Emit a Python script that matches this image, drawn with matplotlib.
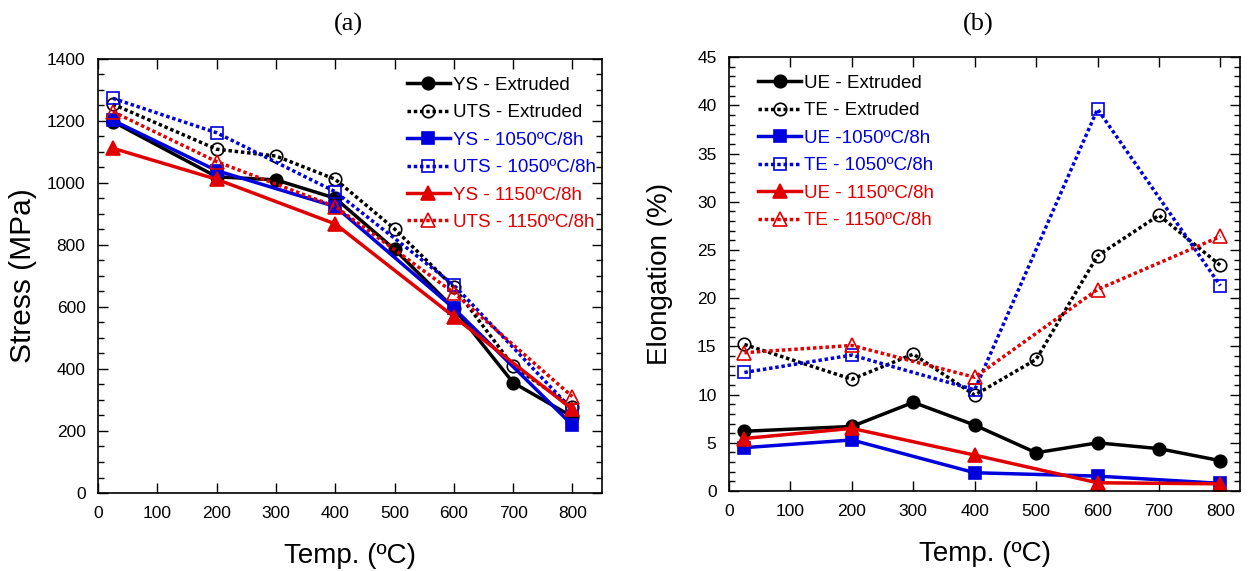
import matplotlib
matplotlib.use("Agg")
import matplotlib.pyplot as plt
from matplotlib.ticker import MultipleLocator

plt.rcParams['font.family'] = ['Liberation Sans', 'DejaVu Sans']

# ---- data: (a) stress ----
temp_ext = [25, 200, 300, 400, 500, 600, 700, 800]
temp_ht = [25, 200, 400, 600, 800]
ys_ext = [1198, 1020, 1010, 951, 786, 596, 356, 246]
uts_ext = [1254, 1109, 1087, 1012, 852, 664, 410, 278]
ys_1050 = [1202, 1040, 924, 596, 219]
uts_1050 = [1273, 1162, 972, 671, 268]
ys_1150 = [1112, 1012, 868, 569, 270]
uts_1150 = [1230, 1069, 924, 646, 311]

# ---- data: (b) elongation ----
ue_ext = [6.2, 6.7, 9.2, 6.84, 3.97, 5.0, 4.4, 3.15]
te_ext = [15.2, 11.6, 14.2, 9.95, 13.65, 24.4, 28.6, 23.4]
ue_1050 = [4.5, 5.3, 1.9, 1.55, 0.8]
te_1050 = [12.3, 14.1, 10.5, 39.6, 21.3]
ue_1150 = [5.45, 6.5, 3.73, 0.86, 0.75]
te_1150 = [14.35, 15.1, 11.8, 20.9, 26.4]

labels_a = ['YS - Extruded', 'UTS - Extruded', 'YS - 1050ºC/8h',
            'UTS - 1050ºC/8h', 'YS - 1150ºC/8h', 'UTS - 1150ºC/8h']
labels_b = ['UE - Extruded', 'TE - Extruded', 'UE -1050ºC/8h',
            'TE - 1050ºC/8h', 'UE - 1150ºC/8h', 'TE - 1150ºC/8h']

BLACK = '#000000'
BLUE = '#0000dd'
RED = '#e00000'
DOT = (0, (1, 0.8))

fig = plt.figure(figsize=(12.49, 5.71), dpi=100)
axA = fig.add_axes([0.0785, 0.1366, 0.4035, 0.7601])
axB = fig.add_axes([0.5837, 0.140, 0.4091, 0.760])


def draw(ax, xs_e, xs_h, series, labels):
    styles = [
        (BLACK, '-', 'o', BLACK),
        (BLACK, DOT, 'o', 'none'),
        (BLUE, '-', 's', BLUE),
        (BLUE, DOT, 's', 'none'),
        (RED, '-', '^', RED),
        (RED, DOT, '^', 'none'),
    ]
    handles = []
    for i, (vals, lab, (c, ls, m, fc)) in enumerate(zip(series, labels, styles)):
        xs = xs_e if i < 2 else xs_h
        ms = 9 if m != '^' else 10
        h, = ax.plot(xs, vals, color=c, linestyle=ls, lw=2.5, marker=m,
                     markersize=ms, markerfacecolor=fc, markeredgecolor=c,
                     markeredgewidth=1.2, label=lab)
        handles.append(h)
    return handles


hA = draw(axA, temp_ext, temp_ht,
          [ys_ext, uts_ext, ys_1050, uts_1050, ys_1150, uts_1150], labels_a)
hB = draw(axB, temp_ext, temp_ht,
          [ue_ext, te_ext, ue_1050, te_1050, ue_1150, te_1150], labels_b)

text_colors = [BLACK, BLACK, BLUE, BLUE, RED, RED]

legA = axA.legend(handles=hA, loc='upper right', frameon=False, fontsize=13.5,
                  handlelength=2.3, handletextpad=0.15, labelspacing=0.55,
                  bbox_to_anchor=(1.01, 0.985), borderaxespad=0.2)
for t, c in zip(legA.get_texts(), text_colors):
    t.set_color(c)

legB = axB.legend(handles=hB, loc='upper left', frameon=False, fontsize=13.5,
                  handlelength=2.3, handletextpad=0.15, labelspacing=0.55,
                  bbox_to_anchor=(0.035, 0.985), borderaxespad=0.2)
for t, c in zip(legB.get_texts(), text_colors):
    t.set_color(c)

axA.set_xlim(0, 850)
axA.set_ylim(0, 1400)
axA.xaxis.set_major_locator(MultipleLocator(100))
axA.yaxis.set_major_locator(MultipleLocator(200))
axA.yaxis.set_minor_locator(MultipleLocator(50))

axB.set_xlim(0, 832)
axB.set_ylim(0, 45)
axB.xaxis.set_major_locator(MultipleLocator(100))
axB.yaxis.set_major_locator(MultipleLocator(5))
axB.yaxis.set_minor_locator(MultipleLocator(1))

for ax in (axA, axB):
    ax.tick_params(which='both', direction='in', top=True, right=True,
                   labelsize=12.5)
    ax.tick_params(which='major', length=7, width=1, pad=9)
    ax.tick_params(which='minor', length=4, width=1)
    for s in ax.spines.values():
        s.set_linewidth(1.2)
    ax.set_xlabel('Temp. (ºC)', fontsize=20, labelpad=16)

axA.set_ylabel('Stress (MPa)', fontsize=21.5, labelpad=7)
axB.set_ylabel('Elongation (%)', fontsize=20, labelpad=17)

fig.text(0.2786, 0.958, '(a)', ha='center', va='center', fontsize=19,
         family=['Liberation Serif', 'DejaVu Serif'])
fig.text(0.783, 0.958, '(b)', ha='center', va='center', fontsize=19,
         family=['Liberation Serif', 'DejaVu Serif'])

fig.savefig('out.png', dpi=100)
